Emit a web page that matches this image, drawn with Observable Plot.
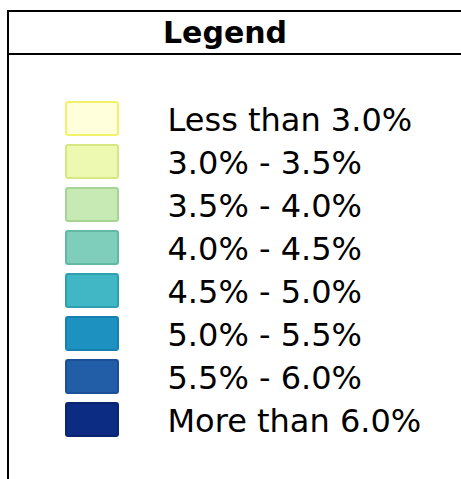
<!DOCTYPE html>
<html>
<head>
<meta charset="utf-8">
<script src="https://cdn.jsdelivr.net/npm/d3@7"></script>
<script src="https://cdn.jsdelivr.net/npm/@observablehq/plot@0.6"></script>
<style>
  html, body { margin: 0; padding: 0; background: #fff; width: 461px; height: 479px; overflow: hidden; }
  #box { position: absolute; left: 7px; top: 10px; width: 520px; height: 520px;
         border-left: 2px solid #000; border-top: 2px solid #000; }
  #title { width: 432px; padding-right: 88px; height: 41px; line-height: 42px; text-align: center;
           border-bottom: 2px solid #000; font-family: "DejaVu Sans", Verdana, sans-serif;
           font-weight: bold; font-size: 30px; color: #000; }
  #chart { position: absolute; left: 0; top: 0; }
  #chart rect { filter: blur(0.5px); }
</style>
</head>
<body>
<div id="box"><div id="title">Legend</div></div>
<div id="chart"></div>
<script>
const titleText = "Legend";
const labels = [
  "Less than 3.0%",
  "3.0% - 3.5%",
  "3.5% - 4.0%",
  "4.0% - 4.5%",
  "4.5% - 5.0%",
  "5.0% - 5.5%",
  "5.5% - 6.0%",
  "More than 6.0%"
];
const colors = ["#ffffdc", "#edf8b1", "#c7e9b4", "#7fcdbb", "#41b6c4", "#1d91c0", "#225ea8", "#0c2c84"];
const borders = ["#f2f26a", "#d6e784", "#a6d494", "#62b8a4", "#2fa0b0", "#1680b0", "#1b4f98", "#0a2470"];

document.getElementById("title").textContent = titleText;

const rows = labels.map((label, i) => ({label, col: "swatch"}));

const plot = Plot.plot({
  width: 461,
  height: 479,
  margin: 0,
  style: {fontFamily: "'DejaVu Sans', Verdana, sans-serif", background: "transparent", overflow: "visible"},
  x: {type: "band", domain: ["swatch"], range: [65, 119], padding: 0, axis: null},
  y: {type: "band", domain: labels, range: [101, 437], paddingInner: 8 / 43, paddingOuter: 0, axis: null},
  color: {type: "ordinal", domain: labels, range: colors},
  marks: [
    Plot.cell(rows, {
      x: "col", y: "label", fill: "label",
      stroke: (d) => borders[labels.indexOf(d.label)],
      strokeWidth: 2, rx: 2, inset: 1
    }),
    Plot.text(rows, {
      x: "col", y: "label", text: "label",
      textAnchor: "start", dx: 75, dy: 2,
      fontSize: 32, fill: "#000"
    })
  ]
});
document.getElementById("chart").appendChild(plot);
</script>
</body>
</html>
